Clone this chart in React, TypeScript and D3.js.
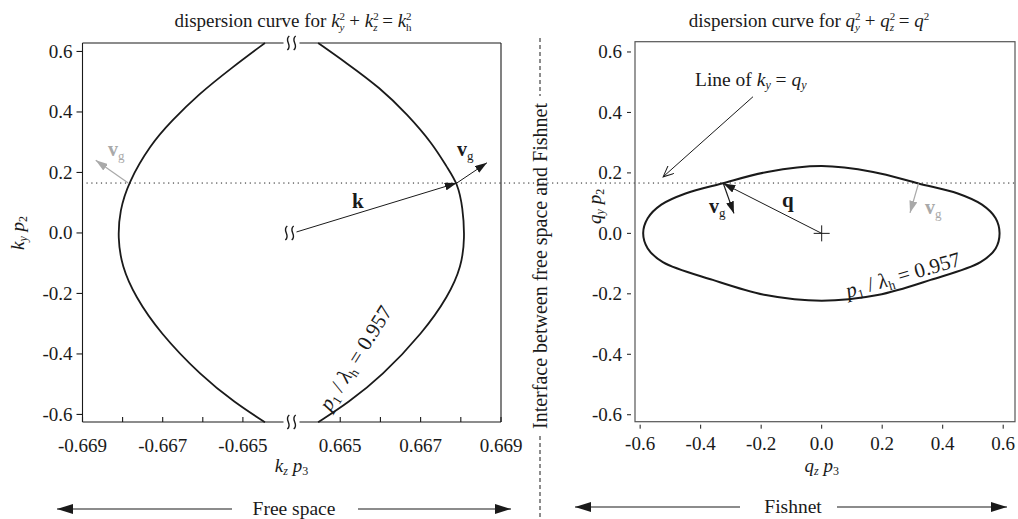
import * as d3 from "d3";

const FONT = "'Liberation Serif', 'Times New Roman', Times, serif";

// left panel: k_y p2 vs k_z p3 (broken axis)
const kyTicks = [-0.6, -0.4, -0.2, 0.0, 0.2, 0.4, 0.6];
const kzTicksNeg = [-0.669, -0.668, -0.667, -0.666, -0.665];
const kzTicksPos = [0.665, 0.666, 0.667, 0.668, 0.669];
const kzLabelled = [-0.669, -0.667, -0.665, 0.665, 0.667, 0.669];

const leftKy = [0.628, 0.546, 0.458, 0.37, 0.293, 0.166, 0.073, -0.016, -0.11, -0.209, -0.329, -0.474, -0.561, -0.626];
const leftKz = [-0.66445, -0.66528, -0.66611, -0.66678, -0.6673, -0.66786, -0.66807, -0.66812, -0.66802, -0.66769, -0.66708, -0.66603, -0.6652, -0.66445];
const rightKy = [0.628, 0.5625, 0.48, 0.392, 0.293, 0.216, 0.164, 0.084, -0.016, -0.11, -0.209, -0.329, -0.474, -0.561, -0.626];
const rightKz = [0.66445, 0.66515, 0.66599, 0.66667, 0.66731, 0.66766, 0.66792, 0.66805, 0.6681, 0.66802, 0.66769, 0.66706, 0.66603, 0.6652, 0.66445];

// right panel: q_y p2 vs q_z p3
const qTicks = [-0.6, -0.4, -0.2, 0.0, 0.2, 0.4, 0.6];
const ellQz = [-0.59, -0.575, -0.53, -0.45, -0.33, -0.18, 0, 0.17, 0.32, 0.45, 0.53, 0.575, 0.588, 0.575, 0.525, 0.36, 0.185, 0, -0.185, -0.36, -0.525, -0.575];
const ellQy = [0, 0.05, 0.095, 0.132, 0.165, 0.203, 0.2225, 0.203, 0.165, 0.132, 0.095, 0.05, 0, -0.05, -0.095, -0.154, -0.204, -0.2228, -0.204, -0.154, -0.095, -0.05];

const interfaceKy = 0.165;

// vectors [z, y]
const kTip = [0.6679, 0.165];
const vgLeftTip = [0.66865, 0.232];
const vgGrayLeft = [[-0.66786, 0.165], [-0.66867, 0.24]];
const qTip = [-0.325, 0.165];
const vgRightTip = [-0.29, 0.066];
const vgGrayRight = [[0.32, 0.165], [0.292, 0.068]];
const lineOfArrow = [[-0.227, 0.452], [-0.524, 0.187]];

const GRAY = "#a9a9a9";
const INK = "#1a1a1a";

const fmt1 = (v: number) => d3.format(".1f")(v).replace("\u2212", "-");
const fmt3 = (v: number) => d3.format(".3f")(v).replace("\u2212", "-");

function Vg({ x, y, color }: { x: number; y: number; color: string }) {
  return (
    <text x={x} y={y} fill={color} fontSize={20}>
      <tspan fontWeight="bold">v</tspan>
      <tspan fontSize={13} dy={4}>g</tspan>
    </text>
  );
}

function squiggle(cx: number, cy: number) {
  return [-3.2, 3.2]
    .map((o) => `M${cx + o + 1},${cy - 7} C${cx + o - 5},${cy - 2.5} ${cx + o + 5},${cy + 2.5} ${cx + o - 1},${cy + 7}`)
    .join(" ");
}

export default function App() {
  const xL1 = d3.scaleLinear().domain([-0.669, -0.6638]).range([82.5, 291]);
  const xL2 = d3.scaleLinear().domain([0.6638, 0.669]).range([292, 501]);
  const xL = (v: number) => (v < 0 ? xL1(v) : xL2(v));
  const yL = d3.scaleLinear().domain([-0.625, 0.628]).range([422, 43]);

  const xR = d3.scaleLinear().domain([-0.617, 0.639]).range([635, 1015]);
  const yR = d3.scaleLinear().domain([-0.623, 0.634]).range([421.7, 41.7]);

  const lineL = d3
    .line<[number, number]>()
    .x((d) => xL(d[0]))
    .y((d) => yL(d[1]))
    .curve(d3.curveBasis);
  const leftPath = lineL(leftKz.map((z, i) => [z, leftKy[i]]));
  const rightPath = lineL(rightKz.map((z, i) => [z, rightKy[i]]));

  const ellPath = d3
    .line<[number, number]>()
    .x((d) => xR(d[0]))
    .y((d) => yR(d[1]))
    .curve(d3.curveCatmullRomClosed.alpha(0.5))(ellQz.map((z, i) => [z, ellQy[i]]));

  const [lx0, lx1] = [xL1.range()[0], xL2.range()[1]];
  const [ly0, ly1] = [yL.range()[1], yL.range()[0]];
  const breakX = (xL1.range()[1] + xL2.range()[0]) / 2;
  const [rx0, rx1] = xR.range();
  const [ry1, ry0] = yR.range();

  const yDot = yL(interfaceKy);

  return (
    <svg
      width={1018}
      height={519}
      style={{ position: "absolute", left: 0, top: 0, background: "#fff" }}
      fontFamily={FONT}
    >
      <defs>
        <marker id="ah" viewBox="0 0 12 8" refX={12} refY={4} markerWidth={12} markerHeight={8} markerUnits="userSpaceOnUse" orient="auto">
          <path d="M0,0L12,4L0,8Z" fill={INK} />
        </marker>
        <marker id="ahg" viewBox="0 0 12 8" refX={12} refY={4} markerWidth={12} markerHeight={8} markerUnits="userSpaceOnUse" orient="auto">
          <path d="M0,0L12,4L0,8Z" fill={GRAY} />
        </marker>
        <marker id="ahb" viewBox="0 0 16 10" refX={16} refY={5} markerWidth={16} markerHeight={10} markerUnits="userSpaceOnUse" orient="auto">
          <path d="M0,0L16,5L0,10Z" fill={INK} />
        </marker>
        <marker id="aho" viewBox="0 0 12 10" refX={11} refY={5} markerWidth={12} markerHeight={10} markerUnits="userSpaceOnUse" orient="auto">
          <path d="M0,0L11,5L0,10" fill="none" stroke={INK} strokeWidth={1} />
        </marker>
      </defs>

      {/* titles */}
      <text x={293} y={27} textAnchor="middle" fontSize={19} fill={INK}>
        dispersion curve for <tspan fontStyle="italic">k</tspan>
        <tspan fontSize={11} dy={-7}>2</tspan>
        <tspan fontSize={11} dx={-5.5} dy={11} fontStyle="italic">y</tspan>
        <tspan dy={-4}> + </tspan>
        <tspan fontStyle="italic">k</tspan>
        <tspan fontSize={11} dy={-7}>2</tspan>
        <tspan fontSize={11} dx={-5.5} dy={11} fontStyle="italic">z</tspan>
        <tspan dy={-4}> = </tspan>
        <tspan fontStyle="italic">k</tspan>
        <tspan fontSize={11} dy={-7}>2</tspan>
        <tspan fontSize={11} dx={-5.5} dy={11}>h</tspan>
      </text>
      <text x={809} y={27} textAnchor="middle" fontSize={19} fill={INK}>
        dispersion curve for <tspan fontStyle="italic">q</tspan>
        <tspan fontSize={11} dy={-7}>2</tspan>
        <tspan fontSize={11} dx={-5.5} dy={11} fontStyle="italic">y</tspan>
        <tspan dy={-4}> + </tspan>
        <tspan fontStyle="italic">q</tspan>
        <tspan fontSize={11} dy={-7}>2</tspan>
        <tspan fontSize={11} dx={-5.5} dy={11} fontStyle="italic">z</tspan>
        <tspan dy={-4}> = </tspan>
        <tspan fontStyle="italic">q</tspan>
        <tspan fontSize={11} dy={-7}>2</tspan>
      </text>

      {/* interface dotted line */}
      <line x1={lx0 + 4} x2={rx1} y1={yDot} y2={yDot} stroke={INK} strokeWidth={1} strokeDasharray="1.2 3.6" />

      {/* ---------- left panel ---------- */}
      <g stroke={INK} strokeWidth={1.1} fill="none">
        <line x1={lx0} x2={breakX - 8} y1={ly0} y2={ly0} />
        <line x1={breakX + 8} x2={lx1} y1={ly0} y2={ly0} />
        <line x1={lx0} x2={breakX - 8} y1={ly1} y2={ly1} />
        <line x1={breakX + 8} x2={lx1} y1={ly1} y2={ly1} />
        <line x1={lx0} x2={lx0} y1={ly0} y2={ly1} />
        <line x1={lx1} x2={lx1} y1={ly0} y2={ly1} />
        {kyTicks.map((t) => (
          <line key={t} x1={lx0 - 6} x2={lx0} y1={yL(t)} y2={yL(t)} />
        ))}
        {[...kzTicksNeg, ...kzTicksPos].map((t) => (
          <line key={t} x1={xL(t)} x2={xL(t)} y1={ly1} y2={ly1 - 5} />
        ))}
      </g>
      <g stroke={INK} strokeWidth={1.4} fill="none">
        <path d={squiggle(breakX, ly0)} />
        <path d={squiggle(breakX, ly1)} />
        <path d={squiggle(breakX - 2, yL(0))} />
      </g>
      <g fontSize={19} fill={INK}>
        {kyTicks.map((t) => (
          <text key={t} x={lx0 - 10} y={yL(t) + 6.5} textAnchor="end">
            {fmt1(t)}
          </text>
        ))}
        {kzLabelled.map((t) => (
          <text key={t} x={xL(t)} y={452} textAnchor="middle">
            {fmt3(t)}
          </text>
        ))}
      </g>
      <text x={breakX} y={472} textAnchor="middle" fontSize={19} fill={INK}>
        <tspan fontStyle="italic">k</tspan>
        <tspan fontSize={12} dy={3} fontStyle="italic">z</tspan>
        <tspan dy={-3}> </tspan>
        <tspan fontStyle="italic">p</tspan>
        <tspan fontSize={12} dy={3}>3</tspan>
      </text>
      <text transform={`translate(24,${yL(0)}) rotate(-90)`} textAnchor="middle" fontSize={19} fill={INK}>
        <tspan fontStyle="italic">k</tspan>
        <tspan fontSize={12} dy={3} fontStyle="italic">y</tspan>
        <tspan dy={-3}> </tspan>
        <tspan fontStyle="italic">p</tspan>
        <tspan fontSize={12} dy={3}>2</tspan>
      </text>

      <path d={leftPath ?? ""} fill="none" stroke={INK} strokeWidth={1.8} />
      <path d={rightPath ?? ""} fill="none" stroke={INK} strokeWidth={1.8} />

      {/* k and v_g */}
      <line x1={breakX + 5} y1={yL(0) - 1} x2={xL(kTip[0])} y2={yL(kTip[1])} stroke={INK} strokeWidth={1} markerEnd="url(#ah)" />
      <line x1={xL(kTip[0])} y1={yL(kTip[1])} x2={xL(vgLeftTip[0])} y2={yL(vgLeftTip[1])} stroke={INK} strokeWidth={1} markerEnd="url(#ah)" />
      <line x1={xL(vgGrayLeft[0][0])} y1={yL(vgGrayLeft[0][1])} x2={xL(vgGrayLeft[1][0])} y2={yL(vgGrayLeft[1][1])} stroke={GRAY} strokeWidth={1.2} markerEnd="url(#ahg)" />
      <text x={352} y={208} fontSize={21} fontWeight="bold" fill={INK}>k</text>
      <Vg x={457} y={156} color={INK} />
      <Vg x={108} y={156} color={GRAY} />

      <text transform="translate(330,412) rotate(-58)" fontSize={21} fill={INK}>
        <tspan fontStyle="italic">p</tspan>
        <tspan fontSize={13} dy={4}>1</tspan>
        <tspan dy={-4}> / </tspan>
        <tspan fontStyle="italic">λ</tspan>
        <tspan fontSize={13} dy={4}>h</tspan>
        <tspan dy={-4}> = 0.957</tspan>
      </text>

      {/* ---------- separator ---------- */}
      <line x1={540} x2={540} y1={38} y2={96} stroke={INK} strokeWidth={1} strokeDasharray="4 3" />
      <line x1={540} x2={540} y1={436} y2={519} stroke={INK} strokeWidth={1} strokeDasharray="4 3" />
      <text transform="translate(546.5,266) rotate(-90)" textAnchor="middle" fontSize={20} fill={INK}>
        Interface between free space and Fishnet
      </text>

      {/* ---------- right panel ---------- */}
      <rect x={rx0} y={ry0} width={rx1 - rx0} height={ry1 - ry0} fill="none" stroke="#555" strokeWidth={1.2} />
      <g stroke={INK} strokeWidth={1}>
        {qTicks.map((t) => (
          <line key={"y" + t} x1={rx0 - 8} x2={rx0 - 4} y1={yR(t)} y2={yR(t)} />
        ))}
        {qTicks.map((t) => (
          <line key={"x" + t} x1={xR(t)} x2={xR(t)} y1={ry1 + 3} y2={ry1 + 7} />
        ))}
      </g>
      <g fontSize={19} fill={INK}>
        {qTicks.map((t) => (
          <text key={t} x={rx0 - 13} y={yR(t) + 6.5} textAnchor="end">
            {fmt1(t)}
          </text>
        ))}
        {qTicks.map((t) => (
          <text key={t} x={xR(t)} y={450} textAnchor="middle">
            {fmt1(t)}
          </text>
        ))}
      </g>
      <text x={xR(0)} y={472} textAnchor="middle" fontSize={19} fill={INK}>
        <tspan fontStyle="italic">q</tspan>
        <tspan fontSize={12} dy={3} fontStyle="italic">z</tspan>
        <tspan dy={-3}> </tspan>
        <tspan fontStyle="italic">p</tspan>
        <tspan fontSize={12} dy={3}>3</tspan>
      </text>
      <text transform={`translate(601,${yR(0) - 27}) rotate(-90)`} textAnchor="middle" fontSize={19} fill={INK}>
        <tspan fontStyle="italic">q</tspan>
        <tspan fontSize={12} dy={3} fontStyle="italic">y</tspan>
        <tspan dy={-3}> </tspan>
        <tspan fontStyle="italic">p</tspan>
        <tspan fontSize={12} dy={3}>2</tspan>
      </text>

      <path d={ellPath ?? ""} fill="none" stroke={INK} strokeWidth={2} />

      {/* origin cross */}
      <g stroke={INK} strokeWidth={1}>
        <line x1={xR(0) - 8} x2={xR(0) + 8} y1={yR(0)} y2={yR(0)} />
        <line x1={xR(0)} x2={xR(0)} y1={yR(0) - 8} y2={yR(0) + 8} />
      </g>
      <line x1={xR(0)} y1={yR(0)} x2={xR(qTip[0])} y2={yR(qTip[1])} stroke={INK} strokeWidth={1} markerEnd="url(#ah)" />
      <line x1={xR(qTip[0])} y1={yR(qTip[1])} x2={xR(vgRightTip[0])} y2={yR(vgRightTip[1])} stroke={INK} strokeWidth={1.2} markerEnd="url(#ah)" />
      <line x1={xR(vgGrayRight[0][0])} y1={yR(vgGrayRight[0][1])} x2={xR(vgGrayRight[1][0])} y2={yR(vgGrayRight[1][1])} stroke={GRAY} strokeWidth={1.2} markerEnd="url(#ahg)" />
      <text x={782} y={207} fontSize={21} fontWeight="bold" fill={INK}>q</text>
      <Vg x={709} y={213} color={INK} />
      <Vg x={925} y={214} color={GRAY} />

      <text x={695} y={86} fontSize={19.5} fill={INK}>
        Line of <tspan fontStyle="italic">k</tspan>
        <tspan fontSize={12} dy={3} fontStyle="italic">y</tspan>
        <tspan dy={-3}> = </tspan>
        <tspan fontStyle="italic">q</tspan>
        <tspan fontSize={12} dy={3} fontStyle="italic">y</tspan>
      </text>
      <line x1={xR(lineOfArrow[0][0])} y1={yR(lineOfArrow[0][1])} x2={xR(lineOfArrow[1][0])} y2={yR(lineOfArrow[1][1])} stroke={INK} strokeWidth={1} markerEnd="url(#aho)" />

      <text transform="translate(848,298) rotate(-16)" fontSize={21} fill={INK}>
        <tspan fontStyle="italic">p</tspan>
        <tspan fontSize={13} dy={4}>1</tspan>
        <tspan dy={-4}> / </tspan>
        <tspan fontStyle="italic">λ</tspan>
        <tspan fontSize={13} dy={4}>h</tspan>
        <tspan dy={-4}> = 0.957</tspan>
      </text>

      {/* ---------- bottom region arrows ---------- */}
      <g stroke={INK} strokeWidth={1.2}>
        <line x1={232} x2={57} y1={509} y2={509} markerEnd="url(#ahb)" />
        <line x1={358} x2={511} y1={509} y2={509} markerEnd="url(#ahb)" />
        <line x1={740} x2={575} y1={507} y2={507} markerEnd="url(#ahb)" />
        <line x1={837} x2={1007} y1={507} y2={507} markerEnd="url(#ahb)" />
      </g>
      <text x={294} y={515} textAnchor="middle" fontSize={19.5} fill={INK}>Free space</text>
      <text x={793} y={513} textAnchor="middle" fontSize={19.5} fill={INK}>Fishnet</text>
    </svg>
  );
}
